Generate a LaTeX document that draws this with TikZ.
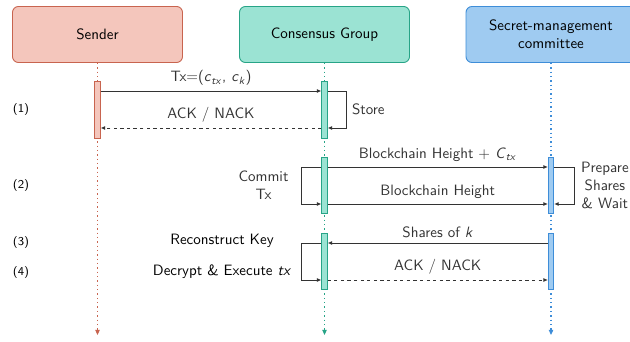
\documentclass[tikz,border=0pt]{standalone}
\usepackage{tikz}
\usetikzlibrary{arrows.meta,positioning,calc}
\definecolor{senderfill}{HTML}{F4C6BC}
\definecolor{senderline}{HTML}{C8644F}
\definecolor{groupfill}{HTML}{9BE3D3}
\definecolor{groupline}{HTML}{27A487}
\definecolor{smcfill}{HTML}{9FCBF1}
\definecolor{smcline}{HTML}{3E8DD8}
\definecolor{msgline}{HTML}{333333}

\begin{document}
\begin{tikzpicture}[x=0.667pt,y=-0.667pt,font=\sffamily,
  actor/.style={rectangle,draw,semithick,rounded corners=4pt,minimum width=113.4pt,minimum height=37.4pt,align=center},
  bar/.style={rectangle,draw,semithick,minimum width=3.5pt,inner sep=0pt},
  life/.style={dotted,line width=0.9pt,-{Triangle[length=3.5pt,width=3pt]}},
  msg/.style={line width=0.6pt,msgline,-{Latex[length=3pt,width=2.6pt]}},
  reply/.style={msg,dash pattern=on 2.2pt off 2.2pt},
  steplbl/.style={font=\sffamily\footnotesize}]
  \useasboundingbox (0,0) rectangle (630,342);

  % Actors
  \node[actor,fill=senderfill,draw=senderline] (sender) at (97.5,34.5) {Sender};
  \node[actor,fill=groupfill,draw=groupline] (group) at (324.5,34.5) {Consensus Group};
  \node[actor,fill=smcfill,draw=smcline] (smc) at (551,34.5) {Secret-management\\committee};

  % Rows of the messages
  \coordinate (r1) at (0,91);
  \coordinate (r2) at (0,128);
  \coordinate (r3) at (0,167);
  \coordinate (r4) at (0,204);
  \coordinate (r5) at (0,243);
  \coordinate (r6) at (0,280);
  \coordinate (bottom) at (0,335);

  % Lifelines
  \draw[life,senderline] (sender.south) -- (sender.south |- bottom);
  \draw[life,groupline] (group.south) -- (group.south |- bottom);
  \draw[life,smcline] (smc.south) -- (smc.south |- bottom);

  % Activation bars
  \node[bar,fill=senderfill,draw=senderline,minimum height=38pt] (snd1) at (97.5,109.5) {};
  \node[bar,fill=groupfill,draw=groupline,minimum height=38pt] (grp1) at (324.5,109.5) {};
  \node[bar,fill=groupfill,draw=groupline,minimum height=37.3pt] (grp2) at (324.5,185) {};
  \node[bar,fill=smcfill,draw=smcline,minimum height=37.3pt] (smc1) at (551,185) {};
  \node[bar,fill=groupfill,draw=groupline,minimum height=37.3pt] (grp3) at (324.5,261) {};
  \node[bar,fill=smcfill,draw=smcline,minimum height=37.3pt] (smc2) at (551,261) {};

  % Messages
  \draw[msg] (snd1.east |- r1) -- node[above] {Tx=(\textit{c}\textsubscript{\textit{tx}}, \textit{c}\textsubscript{\textit{k}})} (grp1.west |- r1);
  \draw[reply] (grp1.west |- r2) -- node[above] {ACK / NACK} (snd1.east |- r2);
  \draw[msg] (grp1.east |- r1) -- ++(19,0) |- node[pos=0.25,right] {Store} (grp1.east |- r2);

  \draw[msg] (grp2.east |- r3) -- node[above] {Blockchain Height $+$ \textit{C}\textsubscript{\textit{tx}}} (smc1.west |- r3);
  \draw[msg] (grp2.west |- r3) -- ++(-20,0) |- node[pos=0.25,left=5pt,align=center] {Commit\\Tx} (grp2.west |- r4);
  \draw[msg] (grp2.east |- r4) -- node[above] {Blockchain Height} (smc1.west |- r4);
  \draw[msg] (smc1.east |- r3) -- ++(20,0) |- node[pos=0.25,right=1pt,align=center] {Prepare\\Shares\\\& Wait} (smc1.east |- r4);

  \draw[msg] (smc2.west |- r5) -- node[above] {Shares of \textit{k}} (grp3.east |- r5);
  \draw[msg] (grp3.west |- r5) -- ++(-20,0) |- (grp3.west |- r6);
  \draw[reply] (grp3.east |- r6) -- node[above] {ACK / NACK} (smc2.west |- r6);

  \node (reckey) at (222,241) {Reconstruct Key};
  \node (decexe) at (222,272) {Decrypt \& Execute \textit{tx}};

  % Steps
  \node[steplbl] (st1) at (21,110) {(1)};
  \node[steplbl] (st2) at (21,186) {(2)};
  \node[steplbl] (st3) at (21,243) {(3)};
  \node[steplbl] (st4) at (21,273) {(4)};
\end{tikzpicture}
\end{document}
